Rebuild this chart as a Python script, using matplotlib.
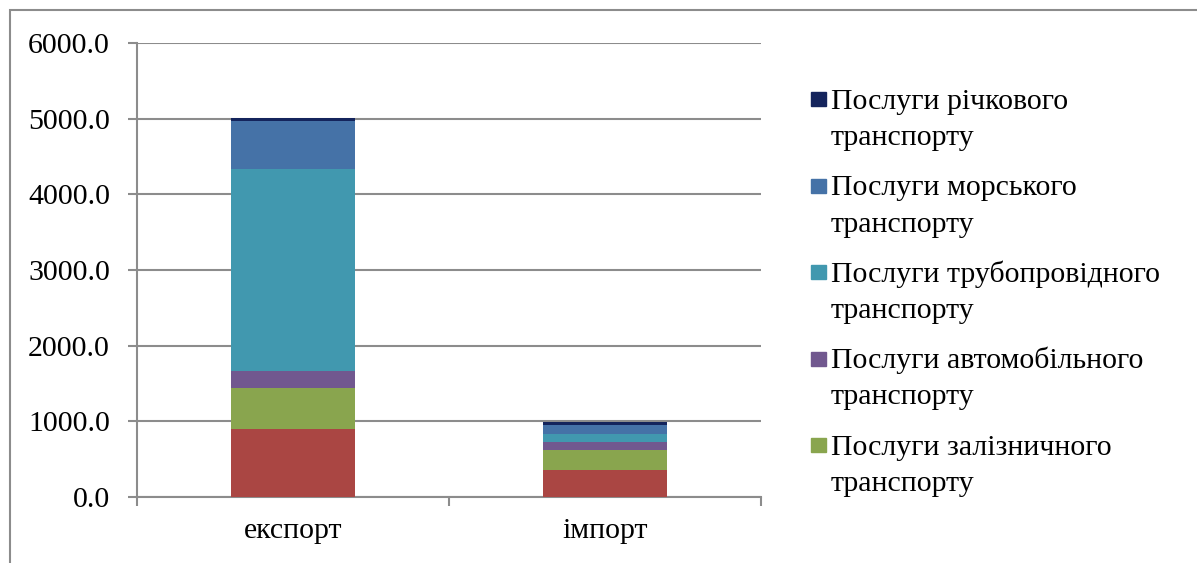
"""Stacked bars: export/import of transport services by mode."""

import matplotlib
matplotlib.use("Agg")
import matplotlib.pyplot as plt
from matplotlib.patches import Rectangle

plt.rcParams["font.family"] = ["Liberation Serif", "DejaVu Serif"]

categories = ["експорт", "імпорт"]

# series from bottom of the stack to the top
series_names = [
    "Послуги авіаційного транспорту",
    "Послуги залізничного транспорту",
    "Послуги автомобільного транспорту",
    "Послуги трубопровідного транспорту",
    "Послуги морського транспорту",
    "Послуги річкового транспорту",
]
air = [895, 357]
rail = [542, 268]
road = [232, 102]
pipeline = [2661, 102]
sea = [643, 122]
river = [31, 44]
series_values = [air, rail, road, pipeline, sea, river]

colors = ["#AA4643", "#89A54E", "#71588F", "#4198AF", "#4572A7", "#14245C"]

# legend shows only the top five series (top first), the last one was cut off
legend_order = [5, 4, 3, 2, 1]

yticks = [0, 1000, 2000, 3000, 4000, 5000, 6000]

grey = "#8C8C8C"
fsize = 21.5

fig = plt.figure(figsize=(11.97, 5.63), dpi=100)
ax = fig.add_axes([137 / 1197, 66 / 563, 624 / 1197, 454 / 563])

x = list(range(len(categories)))
bottom = [0] * len(categories)
for vals, col in zip(series_values, colors):
    ax.bar(x, vals, width=0.4, bottom=bottom, color=col, zorder=3)
    bottom = [b + v for b, v in zip(bottom, vals)]

ax.set_xlim(-0.5, len(categories) - 0.5)
ax.set_ylim(0, 6000)
ax.set_yticks(yticks)
ax.set_yticklabels([f"{t:.1f}" for t in yticks])
ax.yaxis.grid(True, color=grey, linewidth=1.5, zorder=0)

# category boundaries carry the x ticks, labels sit between them
ax.set_xticks([i - 0.5 for i in range(len(categories) + 1)])
ax.set_xticklabels([])
ax.set_xticks(x, minor=True)
ax.set_xticklabels(categories, minor=True)
ax.tick_params(axis="x", which="minor", length=0, pad=15, labelsize=fsize)
ax.tick_params(axis="x", which="major", length=6.5, width=1.5, color=grey)
ax.tick_params(axis="y", length=6.5, width=1.5, color=grey, pad=13, labelsize=fsize)

for side in ["top", "right"]:
    ax.spines[side].set_visible(False)
for side in ["left", "bottom"]:
    ax.spines[side].set_color(grey)
    ax.spines[side].set_linewidth(1.5)

# legend, drawn by hand so the marker sits on the first line of each label
for k, idx in enumerate(legend_order):
    y_px = 99 + k * 86.5
    fig.add_artist(Rectangle((811 / 1197, 1 - (y_px + 7) / 563), 15 / 1197, 14 / 563,
                             transform=fig.transFigure, color=colors[idx]))
    first, second = series_names[idx].rsplit(" ", 1)
    fig.text(831 / 1197, 1 - (y_px + 10) / 563, first,
             fontsize=fsize, va="baseline", ha="left")
    fig.text(831 / 1197, 1 - (y_px + 46) / 563, second,
             fontsize=fsize, va="baseline", ha="left")

# chart area border (only the top and left edges are in the picture)
fig.add_artist(Rectangle((10 / 1197, -0.1), 1.2, 1.1 - 10 / 563,
                         transform=fig.transFigure, fill=False,
                         edgecolor=grey, linewidth=1.5))

fig.savefig("out.png", dpi=100, facecolor="white")
